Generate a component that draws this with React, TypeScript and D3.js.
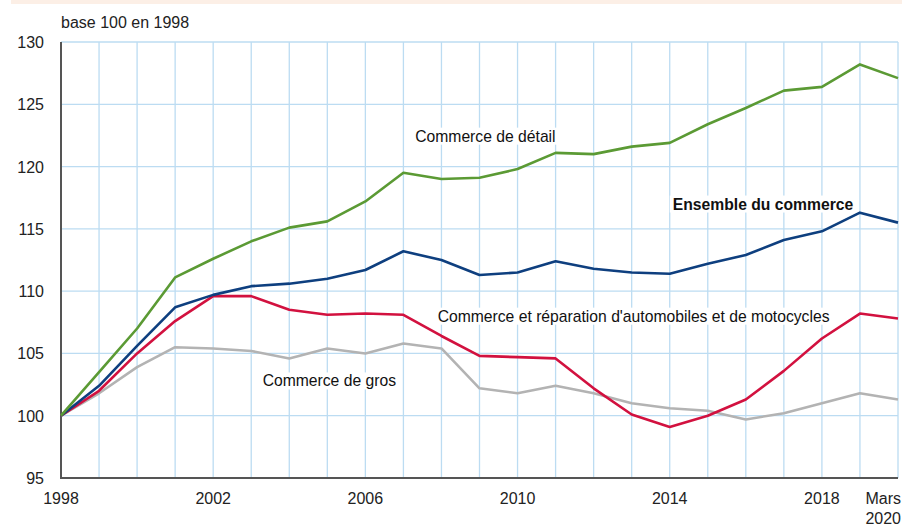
import React, { useEffect, useRef } from 'react';
import * as d3 from 'd3';

const years = [1998, 1999, 2000, 2001, 2002, 2003, 2004, 2005, 2006, 2007, 2008, 2009, 2010, 2011, 2012, 2013, 2014, 2015, 2016, 2017, 2018, 2019, 2020];

const detail = [100, 103.5, 107, 111.1, 112.6, 114, 115.1, 115.6, 117.2, 119.5, 119, 119.1, 119.8, 121.1, 121, 121.6, 121.9, 123.4, 124.7, 126.1, 126.4, 128.2, 127.1];
const ensemble = [100, 102.4, 105.6, 108.7, 109.7, 110.4, 110.6, 111, 111.7, 113.2, 112.5, 111.3, 111.5, 112.4, 111.8, 111.5, 111.4, 112.2, 112.9, 114.1, 114.8, 116.3, 115.5];
const automobiles = [100, 102, 105, 107.6, 109.6, 109.6, 108.5, 108.1, 108.2, 108.1, 106.4, 104.8, 104.7, 104.6, 102.2, 100.1, 99.1, 100, 101.3, 103.6, 106.2, 108.2, 107.8];
const gros = [100, 101.8, 103.9, 105.5, 105.4, 105.2, 104.6, 105.4, 105, 105.8, 105.4, 102.2, 101.8, 102.4, 101.8, 101, 100.6, 100.4, 99.7, 100.2, 101, 101.8, 101.3];

const yTicks = [95, 100, 105, 110, 115, 120, 125, 130];
const xTickYears = [1998, 2002, 2006, 2010, 2014, 2018];

const series = [
  { name: 'gros', values: gros, color: '#b3b3b3' },
  { name: 'automobiles', values: automobiles, color: '#d2113f' },
  { name: 'ensemble', values: ensemble, color: '#0e3f7f' },
  { name: 'detail', values: detail, color: '#5b9a34' },
];

const labels = [
  { text: 'Commerce de détail', year: 2007.31, value: 122.0, strong: false },
  { text: 'Ensemble du commerce', year: 2014.08, value: 116.55, strong: true },
  { text: "Commerce et réparation d'automobiles et de motocycles", year: 2007.9, value: 107.55, strong: false },
  { text: 'Commerce de gros', year: 2003.3, value: 102.35, strong: false },
];

export default function App() {
  const ref = useRef<SVGSVGElement>(null);

  const width = 912;
  const height = 526;
  const margin = { top: 42, right: 15, bottom: 48, left: 61 };
  const font = "'Liberation Sans', Arial, sans-serif";

  useEffect(() => {
    const svg = d3.select(ref.current);
    svg.selectAll('*').remove();

    const x = d3
      .scaleLinear()
      .domain([1998, 2020])
      .range([margin.left, width - margin.right + 1]);
    const y = d3
      .scaleLinear()
      .domain([95, 130])
      .range([height - margin.bottom, margin.top]);

    // bandeau du haut
    svg
      .append('rect')
      .attr('x', 11)
      .attr('y', 0)
      .attr('width', 891)
      .attr('height', 4)
      .attr('fill', '#fcefe6');

    // grille
    svg
      .append('g')
      .selectAll('line')
      .data(years.slice(1))
      .join('line')
      .attr('x1', (d) => x(d))
      .attr('x2', (d) => x(d))
      .attr('y1', y(130))
      .attr('y2', y(95))
      .attr('stroke', '#bcdcf2')
      .attr('stroke-width', 1.3);

    svg
      .append('g')
      .selectAll('line')
      .data(yTicks.slice(1))
      .join('line')
      .attr('x1', x(1998))
      .attr('x2', x(2020))
      .attr('y1', (d) => y(d))
      .attr('y2', (d) => y(d))
      .attr('stroke', '#bcdcf2')
      .attr('stroke-width', 1.3);

    // axes
    svg
      .append('line')
      .attr('x1', x(1998))
      .attr('x2', x(1998))
      .attr('y1', y(130))
      .attr('y2', y(95))
      .attr('stroke', '#555')
      .attr('stroke-width', 2);
    svg
      .append('line')
      .attr('x1', x(1998) - 1)
      .attr('x2', x(2020))
      .attr('y1', y(95))
      .attr('y2', y(95))
      .attr('stroke', '#555')
      .attr('stroke-width', 2);

    // graduations y
    svg
      .append('g')
      .selectAll('text')
      .data(yTicks)
      .join('text')
      .attr('x', 44)
      .attr('y', (d) => y(d) + 6)
      .attr('text-anchor', 'end')
      .style('font-family', font)
      .style('font-size', '16px')
      .attr('fill', '#222')
      .text((d) => d);

    svg
      .append('text')
      .attr('x', 61)
      .attr('y', 28)
      .style('font-family', font)
      .style('font-size', '16px')
      .attr('fill', '#222')
      .text('base 100 en 1998');

    // graduations x
    svg
      .append('g')
      .selectAll('text')
      .data(xTickYears)
      .join('text')
      .attr('x', (d) => x(d))
      .attr('y', 504)
      .attr('text-anchor', 'middle')
      .style('font-family', font)
      .style('font-size', '16px')
      .attr('fill', '#222')
      .text((d) => d);

    const last = svg
      .append('text')
      .attr('y', 504)
      .attr('text-anchor', 'end')
      .style('font-family', font)
      .style('font-size', '16px')
      .attr('fill', '#222');
    last.append('tspan').attr('x', x(2020) + 3).text('Mars');
    last.append('tspan').attr('x', x(2020) + 3).attr('dy', 20).text('2020');

    // étiquettes sur fond blanc (sous les courbes)
    labels.forEach((l) => {
      const g = svg.append('g');
      const t = g
        .append('text')
        .attr('x', x(l.year))
        .attr('y', y(l.value))
        .style('font-family', font)
        .style('font-size', '15.7px')
        .style('font-weight', l.strong ? 'bold' : 'normal')
        .attr('fill', '#111')
        .text(l.text);
      const bb = (t.node() as SVGTextElement).getBBox();
      g.insert('rect', 'text')
        .attr('x', bb.x - 3)
        .attr('y', bb.y)
        .attr('width', bb.width + 6)
        .attr('height', bb.height)
        .attr('fill', '#fff');
    });

    // courbes
    const line = d3
      .line<number>()
      .x((d, i) => x(years[i]))
      .y((d) => y(d));

    svg
      .append('g')
      .selectAll('path')
      .data(series)
      .join('path')
      .attr('d', (d) => line(d.values))
      .attr('fill', 'none')
      .attr('stroke', (d) => d.color)
      .attr('stroke-width', 2.6)
      .attr('stroke-linejoin', 'round');
  }, []);

  return (
    <svg
      ref={ref}
      width={width}
      height={height}
      style={{ position: 'absolute', left: 0, top: 0, background: '#fff' }}
    />
  );
}
